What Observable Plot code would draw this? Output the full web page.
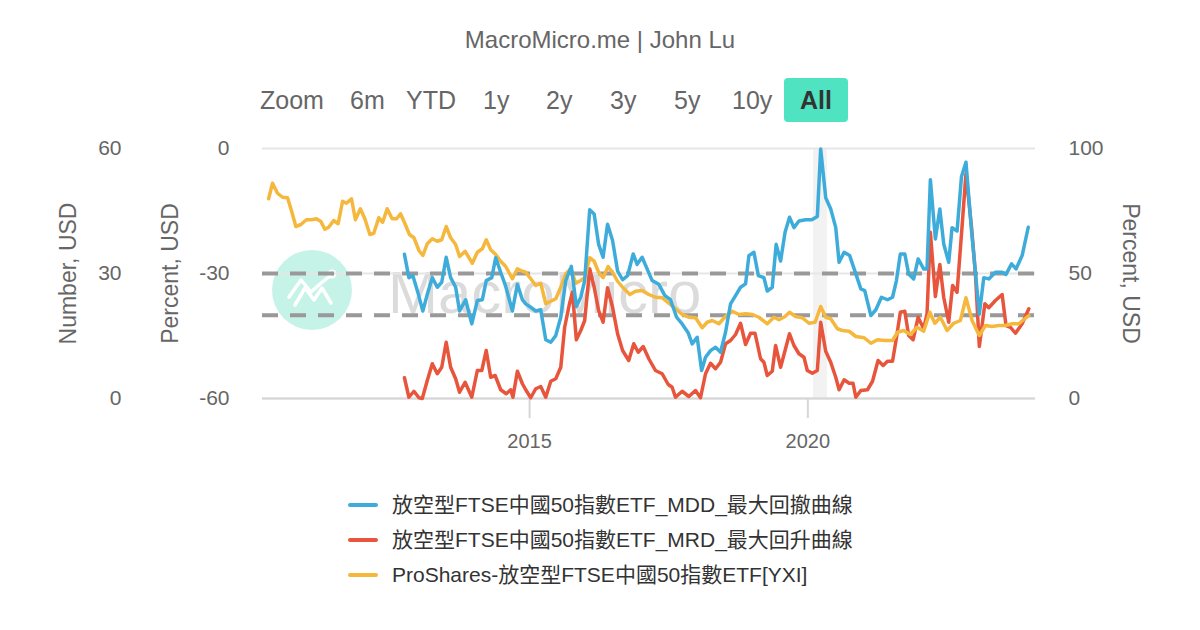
<!DOCTYPE html>
<html>
<head>
<meta charset="utf-8">
<script src="https://cdn.jsdelivr.net/npm/d3@7"></script>
<script src="https://cdn.jsdelivr.net/npm/@observablehq/plot@0.6"></script>
<style>
  body { margin:0; width:1200px; height:630px; position:relative; background:#fff; overflow:hidden;
         font-family:"Liberation Sans","Noto Sans CJK TC",Arial,sans-serif; }
  #title { position:absolute; top:22px; left:0; width:1200px; text-align:center; font-size:24px; line-height:36px; color:#666; }
  .btn { position:absolute; top:78px; height:44px; line-height:44px; font-size:25px; color:#666; }
  .btn.active { background:#4fe3c1; color:#333; font-weight:bold; border-radius:4px; text-align:center; }
  #wm { position:absolute; left:0; top:0; }
  #chart { position:absolute; left:0; top:130px; }
  #legend { position:absolute; left:348px; top:487px; font-size:21px; color:#333; }
  .row { height:35px; line-height:35px; display:flex; align-items:center; }
  .sw { width:30px; height:4px; border-radius:2px; margin-right:14px; }
</style>
</head>
<body>
<div id="title">MacroMicro.me | John Lu</div>
<div id="buttons"></div>
<svg id="wm" width="1200" height="630">
  <circle cx="312" cy="290" r="40" fill="#c6f3e8"/>
  <polyline points="295,305 305,288 314,300 322,288 331,303" fill="none" stroke="#fff" stroke-width="3.5" stroke-linecap="round" stroke-linejoin="round"/>
  <polyline points="289,297 301,280 311,292 320,284 330,276" fill="none" stroke="#fff" stroke-width="3.5" stroke-linecap="round" stroke-linejoin="round"/>
  <circle cx="332" cy="274" r="3.5" fill="none" stroke="#fff" stroke-width="2"/>
  <text x="388" y="313" font-size="60" fill="#000" fill-opacity="0.14" font-family="Liberation Sans, Arial, sans-serif">MacroMicro</text>
</svg>
<div id="chart"></div>
<div id="legend"></div>
<script>
// ---- data ----
const rangeButtons = ["Zoom","6m","YTD","1y","2y","3y","5y","10y","All"];
const buttonLeft = [260,350,406,483,546,610,674,732,784];

const seriesNames = ["放空型FTSE中國50指數ETF_MDD_最大回撤曲線","放空型FTSE中國50指數ETF_MRD_最大回升曲線","ProShares-放空型FTSE中國50指數ETF[YXI]"];
const seriesColors = ["#3eacda","#e8553d","#f5b83d"];

// YXI price (right axis, 0-100)
const yxiYears = [2010.31,2010.38,2010.47,2010.56,2010.65,2010.72,2010.80,2010.89,2010.99,2011.08,2011.17,2011.25,2011.32,2011.39,2011.48,2011.56,2011.64,2011.71,2011.80,2011.87,2011.96,2012.04,2012.13,2012.20,2012.29,2012.36,2012.44,2012.53,2012.61,2012.68,2012.76,2012.84,2012.92,2013.01,2013.08,2013.16,2013.25,2013.34,2013.42,2013.50,2013.58,2013.67,2013.74,2013.84,2013.97,2014.06,2014.15,2014.22,2014.30,2014.39,2014.48,2014.57,2014.69,2014.78,2014.87,2014.93,2015.02,2015.11,2015.20,2015.29,2015.38,2015.47,2015.56,2015.65,2015.74,2015.83,2015.92,2015.99,2016.08,2016.16,2016.24,2016.32,2016.41,2016.50,2016.58,2016.67,2016.80,2016.90,2017.02,2017.14,2017.26,2017.38,2017.50,2017.62,2017.74,2017.86,2017.98,2018.10,2018.19,2018.28,2018.40,2018.52,2018.64,2018.76,2018.88,2019.00,2019.12,2019.27,2019.39,2019.48,2019.59,2019.67,2019.78,2019.90,2020.02,2020.13,2020.23,2020.32,2020.41,2020.53,2020.62,2020.74,2020.86,2021.01,2021.13,2021.25,2021.39,2021.52,2021.61,2021.72,2021.84,2021.96,2022.08,2022.19,2022.28,2022.38,2022.50,2022.62,2022.74,2022.84,2022.95,2023.08,2023.19,2023.31,2023.43,2023.55,2023.67,2023.79,2023.97];
const yxiValues = [79.9,86.1,82.1,80.5,80.3,75.2,68.8,69.6,71.5,71.5,71.9,70.8,67.7,68.5,71.2,69.9,78.9,78.1,79.9,71.5,75.9,71.9,65.6,66.1,72.3,70.5,75.9,71.9,71.9,73.9,69.9,65.6,64.3,59.2,57.2,61.9,63.9,62.9,63.5,68.8,64.3,61.6,56.8,58.9,54.1,58.5,59.9,63.5,59.5,57.6,54.9,52.8,47.9,51.9,50.9,50.5,47.9,45.2,46.1,37.9,38.9,39.9,44.5,49.9,51.9,46.1,47.2,48.3,56.3,54.9,50.5,48.3,52.8,50.1,46.9,44.5,41.6,42.9,43.2,41.6,40.5,40.3,38.1,35.9,33.6,32.5,32.3,28.3,30.5,31.2,29.9,32.8,34.9,33.6,33.9,33.6,32.5,29.9,32.5,31.5,32.8,34.5,32.8,32.3,30.1,30.5,36.8,32.5,31.9,27.9,27.2,26.9,24.8,24.3,22.1,23.5,23.2,23.2,26.5,27.2,25.6,28.5,26.9,34.5,30.1,32.5,27.2,30.1,31.2,40.3,31.2,25.2,29.2,28.8,29.2,29.2,29.9,29.9,33.2];

// MDD (left inner axis, percent -60..0)
const mddYears = [2012.75,2012.83,2012.90,2013.00,2013.08,2013.16,2013.25,2013.34,2013.42,2013.50,2013.58,2013.67,2013.74,2013.85,2013.96,2014.06,2014.15,2014.22,2014.32,2014.39,2014.48,2014.57,2014.69,2014.78,2014.87,2014.93,2015.02,2015.11,2015.20,2015.29,2015.38,2015.47,2015.56,2015.65,2015.75,2015.84,2015.92,2015.99,2016.08,2016.16,2016.24,2016.32,2016.40,2016.49,2016.58,2016.67,2016.76,2016.86,2016.93,2017.02,2017.11,2017.20,2017.32,2017.43,2017.53,2017.64,2017.74,2017.85,2017.92,2018.01,2018.09,2018.16,2018.25,2018.34,2018.43,2018.52,2018.61,2018.70,2018.79,2018.88,2018.94,2019.03,2019.11,2019.21,2019.27,2019.36,2019.43,2019.51,2019.59,2019.67,2019.75,2019.84,2019.96,2020.07,2020.17,2020.23,2020.32,2020.41,2020.50,2020.56,2020.65,2020.75,2020.86,2020.95,2021.02,2021.13,2021.22,2021.32,2021.43,2021.52,2021.59,2021.66,2021.74,2021.81,2021.90,2021.98,2022.08,2022.14,2022.20,2022.29,2022.37,2022.44,2022.53,2022.59,2022.68,2022.76,2022.84,2022.94,2023.08,2023.16,2023.25,2023.37,2023.49,2023.56,2023.66,2023.74,2023.85,2023.96];
const mddValues = [-25.4,-31.0,-30.5,-35.0,-39.0,-35.0,-31.0,-33.3,-32.1,-26.1,-31.0,-33.3,-39.0,-36.3,-42.1,-36.5,-36.3,-31.7,-31.0,-26.2,-29.7,-33.1,-39.0,-32.6,-36.3,-37.3,-38.1,-39.0,-38.7,-45.9,-46.5,-44.9,-40.5,-31.7,-28.3,-37.9,-35.7,-31.7,-14.7,-15.7,-23.0,-26.1,-18.2,-22.1,-29.4,-31.5,-30.5,-25.3,-27.8,-26.1,-28.9,-31.7,-32.6,-35.3,-36.3,-40.5,-42.1,-44.3,-46.9,-45.3,-53.3,-50.1,-48.5,-47.7,-48.9,-44.1,-37.3,-35.3,-33.3,-32.5,-25.7,-24.9,-30.5,-31.0,-34.2,-33.3,-23.0,-27.0,-20.1,-16.5,-19.0,-17.4,-17.1,-17.1,-16.3,-0.1,-11.8,-14.5,-19.0,-27.3,-24.9,-25.7,-30.1,-33.7,-34.1,-40.1,-38.7,-35.7,-36.3,-35.7,-31.7,-25.3,-25.3,-30.1,-31.3,-26.5,-28.9,-28.9,-7.5,-21.7,-14.5,-22.9,-27.3,-19.0,-19.8,-6.7,-3.3,-19.7,-39.8,-31.0,-31.3,-29.7,-29.7,-30.2,-27.7,-28.9,-25.7,-18.9];

// MRD (right axis, percent 0..100)
const mrdYears = [2012.75,2012.83,2012.92,2013.01,2013.07,2013.16,2013.25,2013.34,2013.42,2013.50,2013.58,2013.67,2013.74,2013.84,2013.96,2014.06,2014.14,2014.22,2014.30,2014.38,2014.48,2014.58,2014.66,2014.70,2014.78,2014.87,2014.93,2015.02,2015.11,2015.20,2015.29,2015.38,2015.47,2015.56,2015.63,2015.71,2015.77,2015.84,2015.92,2015.99,2016.08,2016.16,2016.24,2016.32,2016.40,2016.49,2016.58,2016.67,2016.78,2016.87,2016.95,2017.04,2017.14,2017.26,2017.38,2017.49,2017.56,2017.62,2017.74,2017.86,2017.98,2018.07,2018.16,2018.25,2018.34,2018.43,2018.52,2018.61,2018.70,2018.79,2018.88,2018.97,2019.05,2019.15,2019.21,2019.27,2019.36,2019.42,2019.51,2019.59,2019.67,2019.75,2019.84,2019.93,2019.99,2020.08,2020.17,2020.23,2020.32,2020.41,2020.50,2020.56,2020.65,2020.74,2020.81,2020.86,2020.95,2021.07,2021.16,2021.26,2021.35,2021.43,2021.52,2021.59,2021.66,2021.74,2021.81,2021.89,2021.98,2022.08,2022.14,2022.20,2022.29,2022.37,2022.44,2022.53,2022.60,2022.68,2022.76,2022.84,2022.94,2023.01,2023.08,2023.18,2023.25,2023.37,2023.49,2023.56,2023.64,2023.73,2023.85,2023.97];
const mrdValues = [8.3,0.5,2.9,0.3,0,7.2,13.9,9.9,12.5,22.5,12.5,7.9,2.5,6.5,0.5,11.2,11.2,19.2,8.5,9.2,3.5,1.9,3.5,0.5,10.9,5.9,3.5,0.3,3.9,4.8,0.5,6.9,7.9,12.5,28.5,37.2,42.5,23.5,27.2,31.2,51.9,44.5,35.2,30.5,44.3,36.5,25.9,19.2,15.2,21.9,18.5,20.8,15.9,11.2,9.9,5.6,4.5,0.5,2.9,0.8,3.2,0.3,9.9,14.1,11.9,14.5,21.9,23.2,25.6,30.1,21.6,26.1,26.1,15.9,14.5,9.2,10.9,21.2,12.5,19.2,25.9,21.2,17.9,16.5,11.2,10.1,11.2,30.5,18.9,14.5,8.5,3.5,7.5,6.1,6.1,0.5,3.2,3.5,6.9,15.2,13.2,14.9,14.9,24.3,34.5,34.9,25.2,23.5,32.5,27.9,33.9,66.5,40.8,53.6,40.5,30.5,45.2,42.5,65.9,89.9,68.5,49.9,20.8,37.9,36.3,39.2,41.6,29.2,28.5,26.1,29.9,35.9];

const dashedLevels = [-30, -40];        // percent axis
const recession = [{start: 2020.10, end: 2020.35}];
const xTicks = [2015, 2020];
const rightTicks = [0, 50, 100];
const percentTicks = [-60, -30, 0];
const numberTicks = [0, 30, 60];
const xDomain = [2010.2, 2024.09];

// ---- helpers ----
function decToDate(y) {
  const yr = Math.floor(y);
  const s = Date.UTC(yr, 0, 1), e = Date.UTC(yr + 1, 0, 1);
  return new Date(s + (y - yr) * (e - s));
}
const pctToY = v => (v + 60) / 60 * 100;   // -60..0 -> 0..100
const numToY = v => v / 60 * 100;          // 0..60 -> 0..100

const yxi = yxiYears.map((t, i) => ({date: decToDate(t), y: yxiValues[i]}));
const mdd = mddYears.map((t, i) => ({date: decToDate(t), y: pctToY(mddValues[i])}));
const mrd = mrdYears.map((t, i) => ({date: decToDate(t), y: mrdValues[i]}));

// buttons
const bdiv = document.getElementById("buttons");
rangeButtons.forEach((b, i) => {
  const s = document.createElement("span");
  s.className = "btn" + (b === "All" ? " active" : "");
  s.style.left = buttonLeft[i] + "px";
  if (b === "All") s.style.width = "64px";
  s.textContent = b;
  bdiv.appendChild(s);
});

const font = '"Liberation Sans","Noto Sans CJK TC",Arial,sans-serif';

const chart = Plot.plot({
  width: 1200,
  height: 340,
  marginTop: 18,
  marginBottom: 72,
  marginLeft: 262,
  marginRight: 165,
  style: {background: "transparent", fontFamily: font, fontSize: "21px", color: "#666", overflow: "visible"},
  x: {type: "utc", domain: xDomain.map(decToDate)},
  y: {domain: [0, 100]},
  marks: [
    Plot.rect(recession, {x1: d => decToDate(d.start), x2: d => decToDate(d.end), fill: "#f2f2f2"}),
    Plot.ruleY(rightTicks, {stroke: "#e6e6e6", strokeWidth: 2}),
    Plot.ruleY([0], {stroke: "#d6d6d6", strokeWidth: 2}),
    Plot.ruleY(dashedLevels, {y: pctToY, stroke: "#999", strokeWidth: 4, strokeDasharray: "16,12"}),
    Plot.axisX(xTicks.map(decToDate), {tickSize: 20, tickPadding: 15, stroke: "#d6d6d6", strokeWidth: 2, tickFormat: d => String(d.getUTCFullYear()), fontSize: 20, color: "#666"}),
    Plot.axisY(rightTicks, {anchor: "right", tickSize: 0, tickPadding: 33, label: null}),
    Plot.axisY(percentTicks.map(pctToY), {anchor: "left", tickSize: 0, tickPadding: 33, label: null, tickFormat: d => String(Math.round(d * 0.6 - 60))}),
    Plot.axisY(numberTicks.map(numToY), {anchor: "left", tickSize: 0, tickPadding: 141, label: null, tickFormat: d => String(Math.round(d * 0.6))}),
    Plot.text(["Number, USD"], {frameAnchor: "left", dx: -194, rotate: -90, textAnchor: "middle", fontSize: 23, fill: "#666"}),
    Plot.text(["Percent, USD"], {frameAnchor: "left", dx: -92, rotate: -90, textAnchor: "middle", fontSize: 23, fill: "#666"}),
    Plot.text(["Percent, USD"], {frameAnchor: "right", dx: 95, rotate: 90, textAnchor: "middle", fontSize: 23, fill: "#666"}),
    Plot.line(mrd, {x: "date", y: "y", stroke: seriesColors[1], strokeWidth: 3.5}),
    Plot.line(yxi, {x: "date", y: "y", stroke: seriesColors[2], strokeWidth: 3.5}),
    Plot.line(mdd, {x: "date", y: "y", stroke: seriesColors[0], strokeWidth: 3.5})
  ]
});
document.getElementById("chart").appendChild(chart);

// legend
const leg = document.getElementById("legend");
seriesNames.forEach((n, i) => {
  const r = document.createElement("div");
  r.className = "row";
  const sw = document.createElement("span");
  sw.className = "sw";
  sw.style.background = seriesColors[i];
  const t = document.createElement("span");
  t.textContent = n;
  r.appendChild(sw); r.appendChild(t);
  leg.appendChild(r);
});
</script>
</body>
</html>
